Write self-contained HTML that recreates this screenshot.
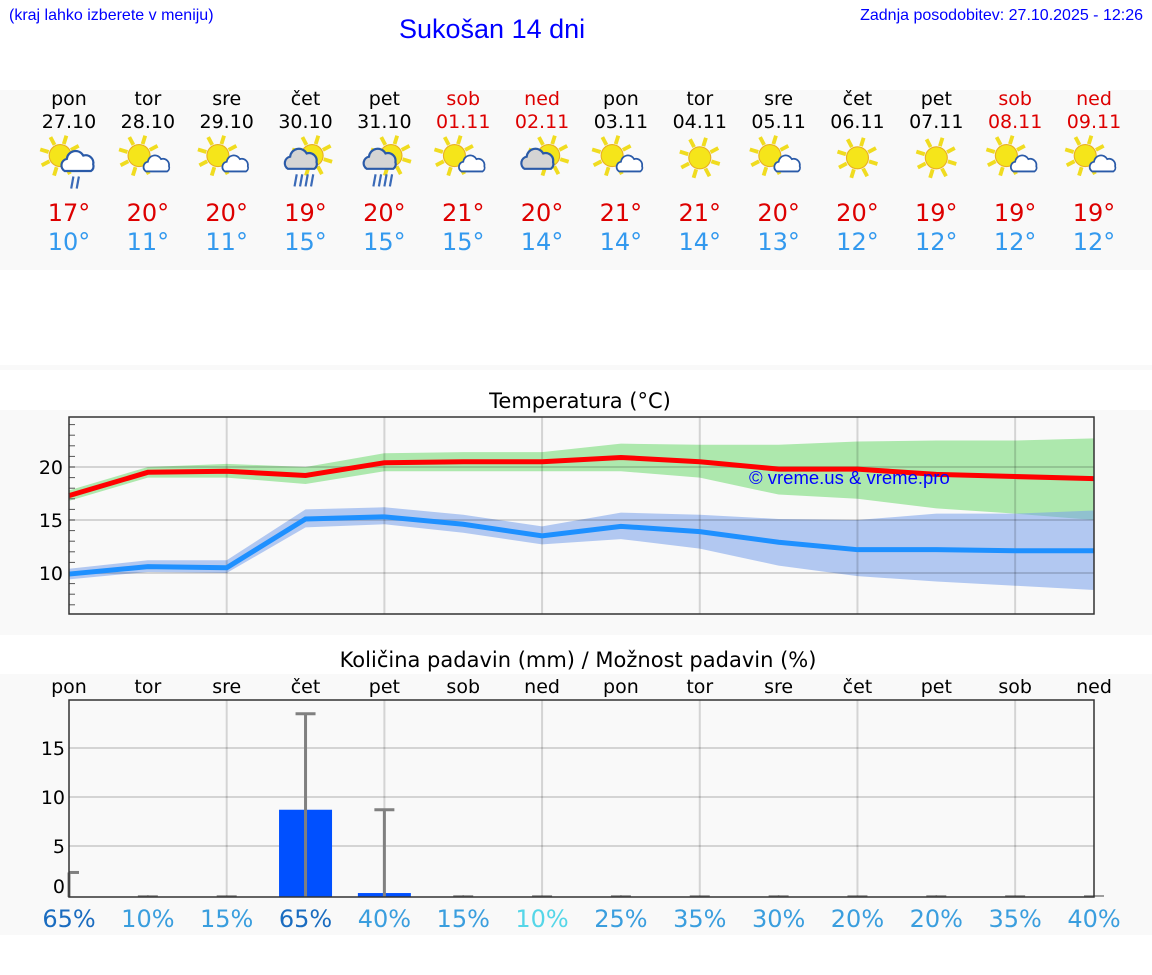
<!DOCTYPE html>
<html><head><meta charset="utf-8"><style>
body{margin:0;width:1152px;height:975px;background:#fff;font-family:"DejaVu Sans","Liberation Sans",sans-serif;position:relative;overflow:hidden}
.abs{position:absolute}
.band{position:absolute;left:0;width:1152px;background:#f9f9f9}
.day{position:absolute;width:80px;text-align:center;font-size:19px}
</style></head><body>
<div class="band" style="top:90px;height:180px"></div>
<div class="band" style="top:365px;height:5px"></div>
<div class="band" style="top:410px;height:225px"></div>
<div class="band" style="top:674px;height:261px"></div>
<div class="abs" style="left:9px;top:7px;font-size:16px;color:#00f;font-family:'Liberation Sans',sans-serif">(kraj lahko izberete v meniju)</div>
<div class="abs" style="left:399px;top:14px;font-size:27px;color:#00f;font-family:'Liberation Sans',sans-serif">Sukošan 14 dni</div>
<div class="abs" style="right:9px;top:7px;font-size:16px;color:#00f;font-family:'Liberation Sans',sans-serif">Zadnja posodobitev: 27.10.2025 - 12:26</div>
<div id="days"></div>
<svg id="chart" class="abs" style="left:0;top:0" width="1152" height="975"></svg>
<script>
const dayNames=["pon","tor","sre","čet","pet","sob","ned","pon","tor","sre","čet","pet","sob","ned"];
const dates=["27.10","28.10","29.10","30.10","31.10","01.11","02.11","03.11","04.11","05.11","06.11","07.11","08.11","09.11"];
const iconTypes=["rain","pc","pc","rainc","rainc","pc","c","pc","sun","pc","sun","sun","pc","pc"];
const tMax=[17,20,20,19,20,21,20,21,21,20,20,19,19,19];
const tMin=[10,11,11,15,15,15,14,14,14,13,12,12,12,12];
const maxLine=[17.3,19.5,19.6,19.2,20.4,20.5,20.5,20.9,20.5,19.8,19.8,19.3,19.1,18.9];
const maxHi=[17.8,20.0,20.3,20.0,21.3,21.4,21.4,22.2,22.1,22.1,22.4,22.5,22.5,22.7];
const maxLo=[16.8,19.0,19.0,18.4,19.6,19.6,19.6,19.6,19.0,17.4,17.0,16.1,15.6,15.0];
const minLine=[9.9,10.6,10.5,15.1,15.3,14.6,13.5,14.4,13.9,12.9,12.2,12.2,12.1,12.1];
const minHi=[10.4,11.2,11.2,16.0,16.2,15.5,14.4,15.7,15.5,15.1,15.0,15.6,15.6,15.9];
const minLo=[9.4,10.1,10.0,14.3,14.6,13.8,12.7,13.2,12.3,10.7,9.7,9.2,8.8,8.4];
const tempTicks=[10,15,20];
const precip=[0,0,0,8.7,0.2,0,0,0,0,0,0,0,0,0];
const precipMax=[2.3,0,0,18.5,8.7,0,0,0,0,0,0,0,0,0];
const precipTicks=[0,5,10,15];
const chance=[65,10,15,65,40,15,10,25,35,30,20,20,35,40];

const NS="http://www.w3.org/2000/svg";
const svg=document.getElementById('chart');
const X0=69,X1=1094,DX=(X1-X0)/13;
const xi=i=>X0+i*DX;
const yT=v=>573-(v-10)*10.6;
const yP=v=>895-v*9.8;
function mk(tag,at,parent){const e=document.createElementNS(NS,tag);for(const k in at)e.setAttribute(k,at[k]);(parent||svg).appendChild(e);return e;}

const dd=document.getElementById('days');
dayNames.forEach((n,i)=>{
  const we=(i==5||i==6||i==12||i==13);
  const d=document.createElement('div');d.className='day';
  
  
  d.style.left=(xi(i)-40)+'px';d.style.top='88px';
  d.innerHTML=`<div style="color:${we?'#d00':'#000'};line-height:23px">${n}<br>${dates[i]}</div><div style="height:65px"></div><div style="color:#d00;font-size:24px;line-height:29px">${tMax[i]}°</div><div style="color:#3399ee;font-size:24px;line-height:29px">${tMin[i]}°</div>`;
  dd.appendChild(d);
  const g=mk('g',{transform:`translate(${xi(i)},160) scale(1.1)`});
  
  
  const t=iconTypes[i];
  const sx=t=='sun'?0:(t=='rainc'||t=='c')?6:-8, sy=t=='sun'?-2:-4;
  for(let a=0;a<8;a++){const r=a*Math.PI/4+0.3;mk('line',{x1:sx+Math.cos(r)*11,y1:sy+Math.sin(r)*11,x2:sx+Math.cos(r)*19,y2:sy+Math.sin(r)*19,stroke:'#f0dc20','stroke-width':3.5},g);}
  mk('circle',{cx:sx,cy:sy,r:10,fill:'#f5e51a',stroke:'#e8b020','stroke-width':1},g);
  if(t!='sun'){
    const cf=(t=='rainc'||t=='c')?'#d4d4d4':'#fff';
    const ox=t=='rain'?8:(t=='rainc'||t=='c')?-4:8, oy=t=='rain'?2:(t=='rainc'||t=='c')?0:4, s=t=='pc'?0.8:1;
    mk('path',{d:'M-12,8 a6,6 0 0,1 2,-11 a8,8 0 0,1 15,-3 a7,7 0 0,1 9,8 a5,5 0 0,1 -2,6 z',fill:cf,stroke:'#2a5aa8','stroke-width':2,transform:`translate(${ox},${oy}) scale(${s})`},g);
    if(t=='rain'||t=='rainc'){const n=t=='rain'?2:4;for(let k=0;k<n;k++)mk('line',{x1:ox-4+k*5,y1:oy+13,x2:ox-6+k*5,y2:oy+24,stroke:'#3a6ab8','stroke-width':2},g);}
  }
});

mk('text',{x:580,y:408,'text-anchor':'middle','font-size':21,fill:'#000'}).textContent='Temperatura (°C)';
mk('rect',{x:X0,y:417,width:X1-X0,height:197,fill:'#f9f9f9'});
function band(hi,lo,yf,fill){let d='';hi.forEach((v,i)=>d+=(i?'L':'M')+xi(i)+','+yf(v));for(let i=lo.length-1;i>=0;i--)d+='L'+xi(i)+','+yf(lo[i]);return mk('path',{d:d+'Z',fill:fill});}
const gb=band(maxHi,maxLo,yT,'#ade8ad');
const bb=band(minHi,minLo,yT,'rgba(120,160,235,0.55)');
tempTicks.forEach(v=>{mk('line',{x1:X0,x2:X1,y1:yT(v),y2:yT(v),stroke:'rgba(0,0,0,0.15)','stroke-width':2});
 const tx=mk('text',{x:63,y:yT(v)+7,'text-anchor':'end','font-size':19});tx.textContent=v;});
for(let v=7;v<=24;v++)mk('line',{x1:X0,x2:X0+6,y1:yT(v),y2:yT(v),stroke:'#555','stroke-width':1});
for(let i=2;i<13;i+=2)mk('line',{x1:xi(i),x2:xi(i),y1:417,y2:614,stroke:'rgba(0,0,0,0.15)','stroke-width':2});
function line(vals,yf,col,name){const p=mk('polyline',{points:vals.map((v,i)=>xi(i)+','+yf(v)).join(' '),fill:'none',stroke:col,'stroke-width':5});}
line(maxLine,yT,'#ff0000','max-temp-line');line(minLine,yT,'#1e90ff','min-temp-line');
mk('text',{x:749,y:484,'font-size':18.5,fill:'#00f','font-family':'Liberation Sans, sans-serif'}).textContent='© vreme.us & vreme.pro';
mk('rect',{x:X0,y:417,width:X1-X0,height:197,fill:'none',stroke:'#333','stroke-width':1.5});

mk('text',{x:578,y:667,'text-anchor':'middle','font-size':21}).textContent='Količina padavin (mm) / Možnost padavin (%)';
mk('rect',{x:X0,y:700,width:X1-X0,height:197,fill:'#f9f9f9'});
precipTicks.forEach(v=>{if(v>0)mk('line',{x1:X0,x2:X1,y1:yP(v),y2:yP(v),stroke:'rgba(0,0,0,0.15)','stroke-width':2});
 const tx=mk('text',{x:65,y:v==0?yP(v)-2:yP(v)+7,'text-anchor':'end','font-size':19});tx.textContent=v;});
for(let i=2;i<13;i+=2)mk('line',{x1:xi(i),x2:xi(i),y1:700,y2:897,stroke:'rgba(0,0,0,0.15)','stroke-width':2});
dayNames.forEach((n,i)=>{const t=mk('text',{x:xi(i),y:693,'text-anchor':'middle','font-size':19});t.textContent=n;});
precip.forEach((v,i)=>{if(v>0){const r=mk('rect',{x:xi(i)-26.5,y:yP(v),width:53,height:yP(0)+2-yP(v),fill:'#0050ff'});}});
precipMax.forEach((v,i)=>{const g=mk('g',{});
 const sw=v>0?3:1.5;
 mk('line',{x1:xi(i),x2:xi(i),y1:yP(v),y2:897,stroke:'#808080','stroke-width':sw},g);
 mk('line',{x1:Math.max(X0,xi(i)-10),x2:xi(i)+10,y1:v>0?yP(v):896,y2:v>0?yP(v):896,stroke:'#808080','stroke-width':sw},g);});
mk('rect',{x:X0,y:700,width:X1-X0,height:197,fill:'none',stroke:'#333','stroke-width':1.5});
chance.forEach((v,i)=>{const c=v>=50?'#1a6cc0':(v<=10&&i==6)?'#55d6e8':'#3a9ede';
 const t=mk('text',{x:xi(i),y:927,'text-anchor':'middle','font-size':24,fill:c});t.textContent=v+'%';});
</script>
</body></html>
